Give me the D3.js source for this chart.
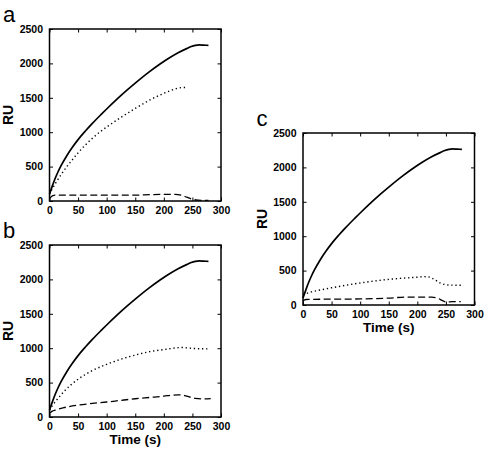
<!DOCTYPE html>
<html><head><meta charset="utf-8">
<script src="https://cdn.jsdelivr.net/npm/d3@7"></script>
<style>
body{margin:0;background:#fff;}
text{font-family:"Liberation Sans",Arial,Helvetica,sans-serif;}
</style></head><body>
<svg id="chart" width="486" height="452"></svg>
<script>
// Data (time in s, response in RU)
const solidT = [0,5,10,15,20,30,40,50,62,75,90,100,119,135,150,175,194,210,225,240,248,255,262,270,278];
const solidV = [100,220,330,425,510,655,780,892,1010,1128,1255,1337,1487,1607,1713,1880,1995,2082,2155,2215,2245,2262,2268,2265,2262];

const aDotT = [0,5,10,20,30,40,50,62,75,90,100,125,150,176,200,215,225,235,240];
const aDotV = [100,178,250,380,495,600,700,808,912,1015,1075,1215,1345,1470,1565,1615,1640,1650,1648];
const aDashT = [0,5,10,50,100,150,175,200,220,230,240,250,260,278];
const aDashV = [35,75,85,85,85,85,92,97,97,85,55,25,12,8];

const bDotT = [0,5,10,20,30,40,50,62,75,100,125,150,175,200,215,225,232,240,250,265,278];
const bDotV = [100,165,220,320,410,485,550,615,675,765,840,900,950,980,998,1008,1010,1005,997,992,990];
const bDashT = [0,5,10,25,50,75,100,125,150,175,200,215,225,232,240,248,255,265,282];
const bDashV = [55,85,100,135,172,197,218,242,265,284,303,318,323,320,305,285,270,263,268];

const cDotT = [0,5,15,30,50,75,100,125,150,175,200,212,220,230,240,248,260,276];
const cDotV = [150,165,190,218,250,287,320,349,373,390,404,412,408,370,320,298,289,286];
const cDashT = [0,5,10,50,100,150,180,200,225,235,245,250,262,276];
const cDashV = [60,80,82,85,88,100,115,115,115,100,60,45,48,48];

const xTicks = [0,50,100,150,200,250,300];
const yTicks = [0,500,1000,1500,2000,2500];
const panelLetters = ["a","b","c"];

const zip = (t,v) => t.map((d,i)=>({t:d,v:v[i]}));
const panels = [
  {letter:panelLetters[0], left:49.5, top:29, w:171.5, h:172, timeLabel:false,
   series:[{d:zip(solidT,solidV),s:"solid"},{d:zip(aDotT,aDotV),s:"dot"},{d:zip(aDashT,aDashV),s:"dash"}]},
  {letter:panelLetters[1], left:49.5, top:245, w:171.5, h:172, timeLabel:true,
   series:[{d:zip(solidT,solidV),s:"solid"},{d:zip(bDotT,bDotV),s:"dot"},{d:zip(bDashT,bDashV),s:"dash"}]},
  {letter:panelLetters[2], left:303, top:133, w:171.5, h:172, timeLabel:true,
   series:[{d:zip(solidT,solidV),s:"solid"},{d:zip(cDotT,cDotV),s:"dot"},{d:zip(cDashT,cDashV),s:"dash"}]}
];

const svg = d3.select("#chart");
const font = '"Liberation Sans",Arial,Helvetica,sans-serif';

panels.forEach(p=>{
  const g = svg.append("g").attr("transform",`translate(${p.left},${p.top})`);
  const x = d3.scaleLinear().domain([0,300]).range([0,p.w]);
  const y = d3.scaleLinear().domain([0,2500]).range([p.h,0]);

  const bx = g.append("g").attr("transform",`translate(0,${p.h})`)
    .call(d3.axisBottom(x).tickValues(xTicks).tickSize(-3.5).tickPadding(6).tickFormat(d3.format("d")));
  const ly = g.append("g")
    .call(d3.axisLeft(y).tickValues(yTicks).tickSize(-3.5).tickPadding(6.5).tickFormat(d3.format("d")));
  const tx = g.append("g")
    .call(d3.axisTop(x).tickValues(xTicks).tickSize(-3.5).tickFormat(""));
  const ry = g.append("g").attr("transform",`translate(${p.w},0)`)
    .call(d3.axisRight(y).tickValues(yTicks).tickSize(-3.5).tickFormat(""));
  [bx,ly,tx,ry].forEach(a=>{
    a.select(".domain").remove();
    a.selectAll("line").attr("stroke","#000").attr("stroke-width",1);
    a.selectAll("text").attr("font-family",font).attr("font-weight","bold").attr("font-size",10.5).attr("fill","#000");
  });
  g.append("rect").attr("x",0).attr("y",0).attr("width",p.w).attr("height",p.h)
    .attr("fill","none").attr("stroke","#000").attr("stroke-width",1.5);

  const line = d3.line().x(d=>x(d.t)).y(d=>y(d.v)).curve(d3.curveMonotoneX);
  p.series.forEach(s=>{
    const path = g.append("path").datum(s.d).attr("d",line)
      .attr("fill","none").attr("stroke","#000");
    if(s.s==="solid") path.attr("stroke-width",1.7);
    if(s.s==="dot") path.attr("stroke-width",1.4).attr("stroke-dasharray","1.3,2.8");
    if(s.s==="dash") path.attr("stroke-width",1.3).attr("stroke-dasharray","7,3.5");
  });

  g.append("text").attr("transform",`translate(${-36.5},${p.h/2}) rotate(-90)`)
    .attr("text-anchor","middle").attr("font-family",font).attr("font-weight","bold")
    .attr("font-size",14).text("RU");
  if(p.timeLabel){
    g.append("text").attr("x",p.w/2).attr("y",p.h+27).attr("text-anchor","middle")
      .attr("font-family",font).attr("font-weight","bold").attr("font-size",13.5).text("Time (s)");
  }
  g.append("text").attr("x",-46.5).attr("y",-7).attr("font-family",font)
    .attr("font-size",22).text(p.letter);
});
</script></body></html>
